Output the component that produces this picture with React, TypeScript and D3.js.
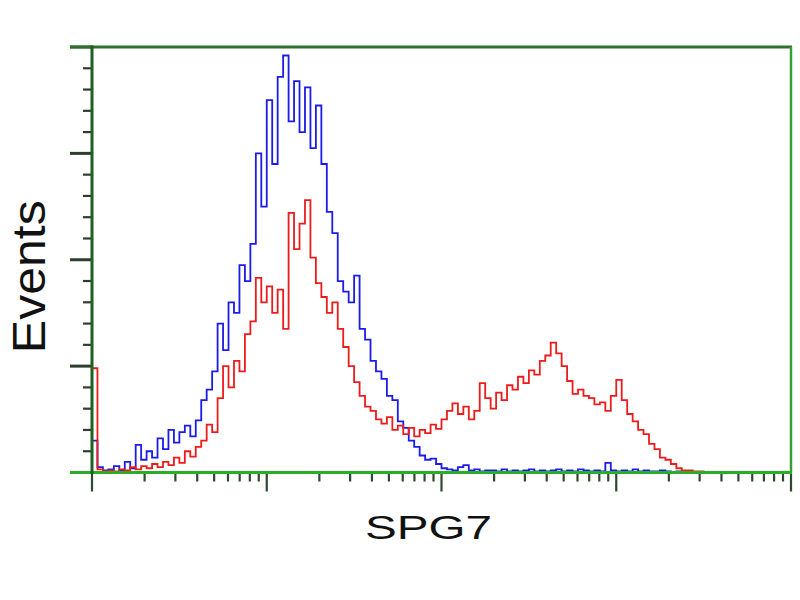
import * as d3 from "d3";
import React from "react";

// 1024-channel log scale (4 decades), counts read per 8-channel bin
const channelStep = 8;
const decades = [1, 10000];
const yMax = 400;
const xLabel = "SPG7";
const yLabel = "Events";

const blueCounts = [
  30, 5, 2, 3, 6, 2, 10, 4, 26, 12,
  20, 14, 32, 22, 40, 28, 38, 44, 34, 49,
  68, 78, 95, 140, 115, 160, 150, 195, 180, 215,
  300, 250, 350, 290, 372, 392, 330, 368, 320, 362,
  305, 345, 290, 245, 225, 180, 170, 160, 185, 135,
  125, 105, 95, 88, 72, 68, 48, 42, 30, 24,
  16, 12, 13, 8, 4, 3, 2, 5, 7, 2,
  3, 1, 2, 2, 1, 3, 1, 2, 1, 2,
  3, 1, 2, 1, 2, 3, 1, 2, 1, 3,
  2, 1, 2, 1, 9, 2, 1, 2, 1, 3,
  1, 2, 1, 1, 2, 1, 0, 1, 0, 0,
  0, 0, 0,
];

const redCounts = [
  98, 3, 1, 2, 1, 3, 2, 5, 3, 6,
  4, 8, 5, 10, 7, 14, 9, 20, 15, 24,
  30, 45, 38, 70, 100, 80, 105, 95, 130, 142,
  183, 160, 175, 150, 172, 135, 244, 210, 234, 256,
  202, 178, 165, 150, 160, 135, 118, 100, 85, 72,
  62, 58, 50, 46, 52, 40, 44, 36, 42, 34,
  40, 37, 45, 41, 50, 58, 65, 55, 62, 50,
  58, 84, 70, 60, 75, 68, 82, 78, 90, 84,
  96, 92, 105, 110, 122, 112, 100, 86, 74, 78,
  72, 70, 64, 66, 58, 72, 87, 68, 55, 48,
  40, 36, 27, 22, 14, 12, 8, 4, 2, 2,
  1, 1, 0,
];

function Histogram() {
  const svgRef = React.useRef<SVGSVGElement>(null);

  React.useEffect(() => {
    const width = 800;
    const height = 600;
    const marginLeft = 92;
    const marginRight = 9;
    const marginTop = 47;
    const marginBottom = 127.5;

    const svg = d3.select(svgRef.current);
    svg.selectAll("*").remove();

    const x = d3
      .scaleLinear()
      .domain([0, 1024])
      .range([marginLeft, width - marginRight]);
    const xLog = d3.scaleLog().domain(decades).range(x.range());
    const y = d3
      .scaleLinear()
      .domain([0, yMax])
      .range([height - marginBottom, marginTop]);

    const line = d3
      .line<[number, number]>()
      .x((d) => x(d[0]))
      .y((d) => y(d[1]))
      .curve(d3.curveStepAfter);

    const toPoints = (counts: number[]): [number, number][] => [
      [0, 0],
      ...counts.map((c, i) => [i * channelStep, c] as [number, number]),
    ];

    svg
      .append("rect")
      .attr("width", width)
      .attr("height", height)
      .attr("fill", "#fff");

    // histograms
    [
      { counts: blueCounts, color: "#1c1ce6" },
      { counts: redCounts, color: "#ec1c1c" },
    ].forEach((s) => {
      svg
        .append("path")
        .attr("fill", "none")
        .attr("stroke", s.color)
        .attr("stroke-width", 1.8)
        .attr("stroke-linejoin", "miter")
        .attr("d", line(toPoints(s.counts)));
    });

    const [x0, x1] = x.range();
    const [yb, yt] = y.range();

    // y ticks (left)
    const yTicks = y.ticks(20);
    svg
      .append("g")
      .selectAll("line")
      .data(yTicks)
      .join("line")
      .attr("x1", (d) => (d % 100 === 0 ? x0 - 22 : x0 - 9))
      .attr("x2", x0)
      .attr("y1", (d) => y(d))
      .attr("y2", (d) => y(d))
      .attr("stroke", (d) => (d === 0 ? "#2aae2a" : d === yMax ? "#2f6f2f" : "#2e3e2e"))
      .attr("stroke-width", (d) => (d % 100 === 0 ? 3 : 2.2));

    // x ticks (bottom, log decades)
    const xTicks = xLog.ticks();
    svg
      .append("g")
      .selectAll("line")
      .data(xTicks)
      .join("line")
      .attr("x1", (d) => xLog(d))
      .attr("x2", (d) => xLog(d))
      .attr("y1", yb)
      .attr("y2", (d) => (Number.isInteger(Math.log10(d)) ? yb + 19 : yb + 9))
      .attr("stroke", "#2e4a2e")
      .attr("stroke-width", 2.2);

    // frame
    svg
      .append("line")
      .attr("x1", x0 - 22)
      .attr("x2", x1 + 1)
      .attr("y1", yt)
      .attr("y2", yt)
      .attr("stroke", "#2f6f2f")
      .attr("stroke-width", 3);
    svg
      .append("line")
      .attr("x1", x1)
      .attr("x2", x1)
      .attr("y1", yt)
      .attr("y2", yb)
      .attr("stroke", "#34a034")
      .attr("stroke-width", 2.5);
    svg
      .append("line")
      .attr("x1", x0)
      .attr("x2", x1 + 1)
      .attr("y1", yb)
      .attr("y2", yb)
      .attr("stroke", "#2aae2a")
      .attr("stroke-width", 3);
    svg
      .append("line")
      .attr("x1", x0)
      .attr("x2", x0)
      .attr("y1", yt - 1.5)
      .attr("y2", yb + 1.5)
      .attr("stroke", "#1f5f22")
      .attr("stroke-width", 3);

    // labels
    svg
      .append("text")
      .attr("transform", `translate(45,${(yt + yb) / 2 + 17}) rotate(-90)`)
      .attr("text-anchor", "middle")
      .attr("font-family", "'Liberation Sans', Arial, sans-serif")
      .attr("font-size", 46)
      .attr("textLength", 153)
      .attr("lengthAdjust", "spacingAndGlyphs")
      .attr("fill", "#111")
      .text(yLabel);

    svg
      .append("text")
      .attr("x", 428.5)
      .attr("y", 539)
      .attr("text-anchor", "middle")
      .attr("font-family", "'Liberation Sans', Arial, sans-serif")
      .attr("font-size", 34)
      .attr("textLength", 127)
      .attr("lengthAdjust", "spacingAndGlyphs")
      .attr("fill", "#111")
      .text(xLabel);
  }, []);

  return (
    <svg
      ref={svgRef}
      width={800}
      height={600}
      style={{ position: "absolute", left: 0, top: 0, display: "block" }}
    />
  );
}

export default function App() {
  return <Histogram />;
}
